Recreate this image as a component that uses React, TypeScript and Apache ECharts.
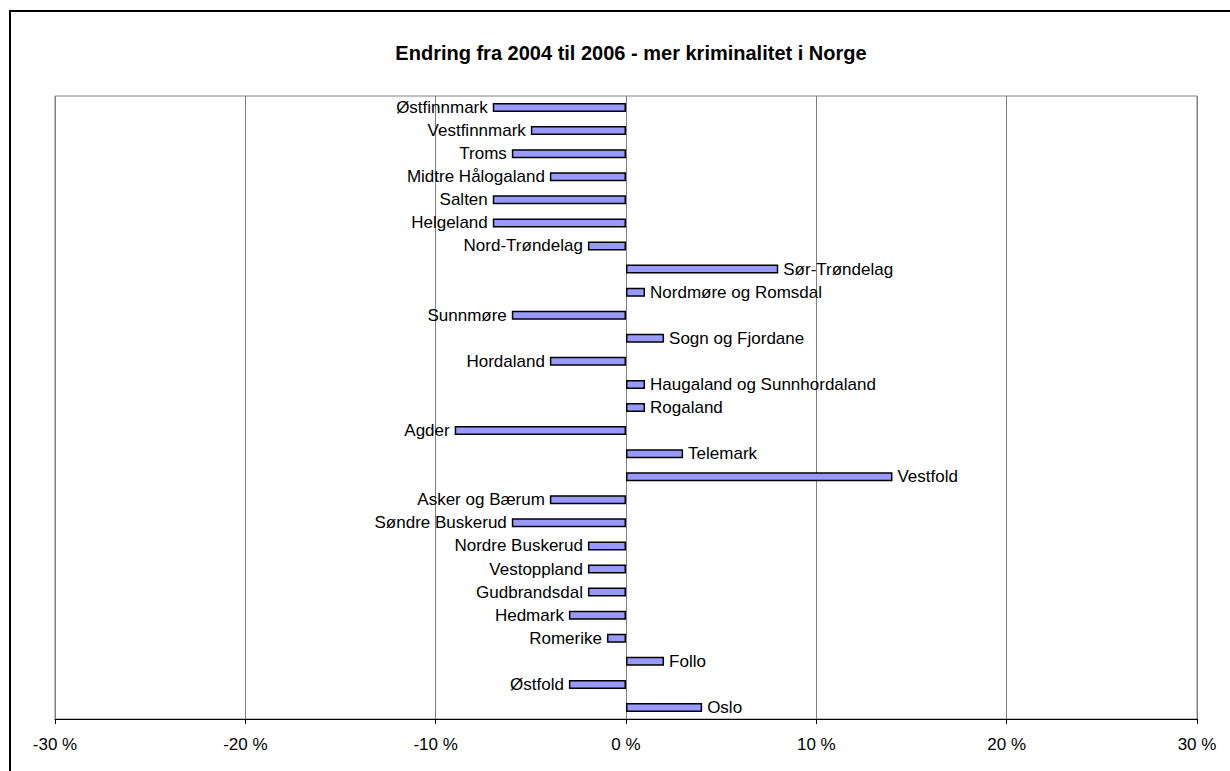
import React, { useEffect, useRef } from "react";
import * as echarts from "echarts";

const categories = [
  "Østfinnmark", "Vestfinnmark", "Troms", "Midtre Hålogaland", "Salten", "Helgeland",
  "Nord-Trøndelag", "Sør-Trøndelag", "Nordmøre og Romsdal", "Sunnmøre", "Sogn og Fjordane",
  "Hordaland", "Haugaland og Sunnhordaland", "Rogaland", "Agder", "Telemark", "Vestfold",
  "Asker og Bærum", "Søndre Buskerud", "Nordre Buskerud", "Vestoppland", "Gudbrandsdal",
  "Hedmark", "Romerike", "Follo", "Østfold", "Oslo",
];
const values = [
  -7, -5, -6, -4, -7, -7,
  -2, 8, 1, -6, 2,
  -4, 1, 1, -9, 3, 14,
  -4, -6, -2, -2, -2,
  -3, -1, 2, -3, 4,
];
const xTicks = { min: -30, max: 30, interval: 10 };
const title = "Endring fra 2004 til 2006 - mer kriminalitet i Norge";

export default function App() {
  const ref = useRef<HTMLDivElement>(null);
  useEffect(() => {
    document.body.style.margin = "0";
    const chart = echarts.init(ref.current!, undefined, { renderer: "svg" });
    const font = "'Liberation Sans', Arial, sans-serif";
    chart.setOption({
      animation: false,
      backgroundColor: "#ffffff",
      title: {
        text: title,
        left: 626,
        textAlign: "center",
        top: 38,
        textStyle: { fontFamily: font, fontSize: 20, fontWeight: "bold", color: "#000" },
      },
      graphic: [
        {
          type: "rect",
          shape: { x: 10, y: 11, width: 1260, height: 800 },
          style: { fill: "none", stroke: "#000", lineWidth: 2 },
          silent: true,
          z: 100,
        },
      ],
      grid: {
        left: 55, right: 33, top: 96, bottom: 52,
        show: true, borderColor: "#808080", borderWidth: 1,
      },
      xAxis: {
        type: "value",
        min: xTicks.min, max: xTicks.max, interval: xTicks.interval,
        axisLine: { show: true, onZero: false, lineStyle: { color: "#000", width: 1 } },
        axisTick: { show: true, length: 5, lineStyle: { color: "#000" } },
        axisLabel: {
          margin: 17,
          fontFamily: font, fontSize: 17, color: "#000",
          formatter: (v: number) => `${Math.round(v)} %`,
        },
        splitLine: { show: true, lineStyle: { color: "#808080", width: 1 } },
      },
      yAxis: {
        type: "category",
        data: categories,
        inverse: true,
        axisLine: { show: false },
        axisTick: { show: false },
        axisLabel: { show: false },
        splitLine: { show: false },
      },
      series: [
        {
          type: "bar",
          barWidth: 9,
          itemStyle: { color: "#9999FF", borderColor: "#000", borderWidth: 1.5 },
          data: values.map((v, i) => ({
            value: v,
            label: {
              show: true,
              position: v < 0 ? "left" : "right",
              distance: 5,
              formatter: categories[i],
              fontFamily: font,
              fontSize: 17,
              color: "#000",
            },
          })),
        },
      ],
    });
    return () => chart.dispose();
  }, []);
  return <div ref={ref} style={{ width: 1230, height: 771 }} />;
}
